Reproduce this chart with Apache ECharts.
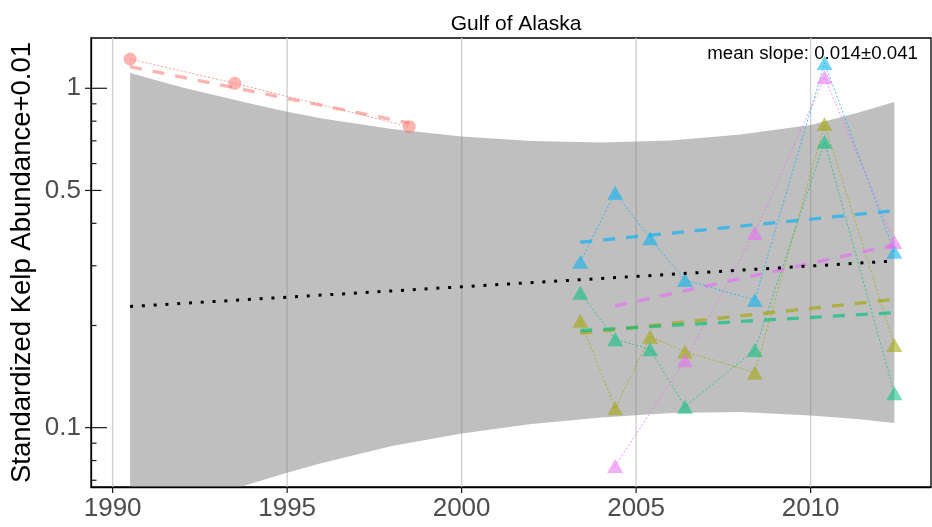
<!DOCTYPE html>
<html><head><meta charset="utf-8">
<script src="https://cdn.jsdelivr.net/npm/echarts@6/dist/echarts.min.js"></script>
<style>html,body{margin:0;padding:0;background:#fff}#c{width:932px;height:527px}</style>
</head><body><div id="c"></div>
<script>
const titleText = 'Gulf of Alaska';
const slopeText = 'mean slope: 0.014\u00b10.041';
const yAxisTitle = 'Standardized Kelp Abundance+0.01';
const xTicks = [1990, 1995, 2000, 2005, 2010];
const xTickLabels = ['1990', '1995', '2000', '2005', '2010'];
const yLabelTicks = [1, 0.5, 0.1];
const yLabelTexts = ['1', '0.5', '0.1'];
const logTicksLong = [1, 0.1];
const logTicksMid = [0.5];
const logTicksShort = [0.9, 0.8, 0.7, 0.6, 0.4, 0.3, 0.2, 0.09, 0.08, 0.07];

const salmonYears = [1990.5, 1993.5, 1998.5];
const salmonVals = [1.220, 1.034, 0.7705];
const triYears = [2003.4, 2004.4, 2005.4, 2006.4, 2008.4, 2010.4, 2012.4];
const blueVals = [0.3083, 0.4925, 0.3614, 0.2724, 0.2378, 1.1873, 0.3301];
const greenVals = [0.2498, 0.1822, 0.1702, 0.1153, 0.1694, 0.6961, 0.1263];
const oliveVals = [0.2066, 0.1141, 0.1854, 0.1675, 0.1452, 0.7847, 0.1752];
const pinkYears = [2004.4, 2006.4, 2008.4, 2010.4, 2012.4];
const pinkVals = [0.0771, 0.1580, 0.3747, 1.0775, 0.3525];

const salmonFitYears = [1990.5, 1998.5];
const salmonFitVals = [1.158, 0.790];
const triFitYears = [2003.4, 2012.4];
const blueFitVals = [0.3518, 0.4358];
const oliveFitVals = [0.1897, 0.2389];
const greenFitVals = [0.1931, 0.2182];
const pinkFitYears = [2004.4, 2012.4];
const pinkFitVals = [0.2284, 0.3453];
const meanYears = [1990.5, 2012.4];
const meanVals = [0.2275, 0.3098];

const ribbonYears = [1990.5, 1992, 1994, 1995, 1996, 1998, 2000, 2002, 2004, 2006, 2008, 2010, 2011.33, 2012.4];
const ribbonUpper = [1.1094, 1.0054, 0.8989, 0.8532, 0.8148, 0.7585, 0.7209, 0.6993, 0.6922, 0.7017, 0.7308, 0.7796, 0.8457, 0.9113];
const ribbonLower = [0.05203, 0.05920, 0.06858, 0.07370, 0.07870, 0.08834, 0.09614, 0.10254, 0.10717, 0.11048, 0.11124, 0.10860, 0.10605, 0.10323];

const X_MIN = 1989.38, X_MAX = 2013.45, Y_MIN = 0.06686, Y_MAX = 1.4066;
const FONT = '"Liberation Sans", Arial, Helvetica, sans-serif';
const C_SALMON = '#F8766D', C_OLIVE = '#A3A500', C_GREEN = '#00BF7D', C_BLUE = '#00B0F6', C_PINK = '#E76BF3';

function pairs(xs, ys) { return xs.map((x, i) => [x, ys[i]]); }
function connSeries(xs, ys, color, symbol, size) {
  return {
    type: 'line', data: pairs(xs, ys), symbol: symbol, symbolSize: size, showSymbol: true,
    lineStyle: { color: color, width: 1, type: [2, 2], opacity: 0.7 },
    itemStyle: { color: color, opacity: 0.55 }, z: 3, silent: true, animation: false
  };
}
function fitSeries(xs, ys, color, op) {
  return {
    type: 'line', data: pairs(xs, ys), symbol: 'none',
    lineStyle: { color: color, width: 3.3, type: [12, 11], opacity: op, cap: 'butt' },
    z: 4, silent: true, animation: false
  };
}

const chart = echarts.init(document.getElementById('c'), null, { renderer: 'canvas' });
chart.setOption({
  animation: false,
  backgroundColor: '#fff',
  title: {
    text: titleText, left: 511, top: 9, textAlign: 'center',
    textStyle: { fontSize: 21, fontWeight: 'normal', color: '#000', fontFamily: FONT }
  },
  graphic: [{
    type: 'text', right: 14, top: 44, z: 100,
    style: { text: slopeText, fontSize: 18.7, fill: '#000', fontFamily: FONT }
  }],
  grid: { left: 91, right: 1, top: 38, bottom: 40, show: true, borderColor: '#000', borderWidth: 1.3, containLabel: false, outerBoundsMode: 'none' },
  xAxis: {
    type: 'value', min: X_MIN, max: X_MAX,
    axisLine: { show: true, onZero: false, lineStyle: { color: '#000', width: 1.3 } },
    axisTick: { show: false }, axisLabel: { show: false }, splitLine: { show: false },
    minorTick: { show: false }, minorSplitLine: { show: false }
  },
  yAxis: {
    type: 'log', logBase: 10, min: Y_MIN, max: Y_MAX,
    axisLine: { show: true, onZero: false, lineStyle: { color: '#000', width: 1.3 } },
    axisTick: { show: false }, axisLabel: { show: false }, splitLine: { show: false },
    minorTick: { show: false }, minorSplitLine: { show: false },
    name: yAxisTitle, nameLocation: 'middle', nameGap: 55,
    nameTextStyle: { fontSize: 27.5, color: '#000', fontFamily: FONT }
  },
  series: [
    {
      type: 'custom', z: 0, silent: true, data: [[2000, 0.5]],
      renderItem: function (params, api) {
        const children = [];
        xTicks.forEach(v => {
          const top = api.coord([v, Y_MAX]);
          const bot = api.coord([v, Y_MIN]);
          children.push({ type: 'line', shape: { x1: top[0], y1: top[1], x2: bot[0], y2: bot[1] }, style: { stroke: '#d0d0d0', lineWidth: 1.4 } });
        });
        return { type: 'group', children: children };
      }
    },
    {
      type: 'custom', clip: true, z: 1, silent: true, data: [[2000, 0.5]],
      renderItem: function (params, api) {
        const pts = [];
        for (let i = 0; i < ribbonYears.length; i++) pts.push(api.coord([ribbonYears[i], ribbonUpper[i]]));
        for (let i = ribbonYears.length - 1; i >= 0; i--) pts.push(api.coord([ribbonYears[i], ribbonLower[i]]));
        return { type: 'polygon', shape: { points: pts }, style: { fill: 'rgba(127,127,127,0.5)' } };
      }
    },
    connSeries(salmonYears, salmonVals, C_SALMON, 'circle', 13),
    connSeries(triYears, oliveVals, C_OLIVE, 'triangle', [16, 14]),
    connSeries(triYears, greenVals, C_GREEN, 'triangle', [16, 14]),
    connSeries(triYears, blueVals, C_BLUE, 'triangle', [16, 14]),
    connSeries(pinkYears, pinkVals, C_PINK, 'triangle', [16, 14]),
    fitSeries(salmonFitYears, salmonFitVals, C_SALMON, 0.55),
    fitSeries(triFitYears, oliveFitVals, C_OLIVE, 0.65),
    fitSeries(triFitYears, greenFitVals, C_GREEN, 0.65),
    fitSeries(triFitYears, blueFitVals, C_BLUE, 0.65),
    fitSeries(pinkFitYears, pinkFitVals, C_PINK, 0.65),
    {
      type: 'line', data: pairs(meanYears, meanVals), symbol: 'none', z: 5, silent: true,
      lineStyle: { color: '#000', width: 3, type: [3, 8.8], cap: 'butt' }
    },
    {
      type: 'custom', z: 10, silent: true, data: [[2000, 0.5]],
      renderItem: function (params, api) {
        const children = [];
        const x0 = api.coord([X_MIN, 1])[0];
        const yb = api.coord([X_MIN, Y_MIN])[1];
        function tick(v, lenIn, lenOut) {
          const y = api.coord([X_MIN, v])[1];
          children.push({ type: 'line', shape: { x1: x0 - lenOut, y1: y, x2: x0 + lenIn, y2: y }, style: { stroke: '#1a1a1a', lineWidth: 1.2 } });
        }
        logTicksLong.forEach(v => tick(v, 16, 0));
        logTicksMid.forEach(v => tick(v, 10.5, 0));
        logTicksShort.forEach(v => tick(v, 5.5, 0));
        yLabelTicks.forEach((v, i) => {
          tick(v, 0, 6);
          const y = api.coord([X_MIN, v])[1];
          children.push({ type: 'text', style: { text: yLabelTexts[i], x: x0 - 10, y: y, align: 'right', verticalAlign: 'middle', fontSize: 26, fill: '#4d4d4d', fontFamily: FONT } });
        });
        xTicks.forEach((v, i) => {
          const x = api.coord([v, Y_MIN])[0];
          children.push({ type: 'line', shape: { x1: x, y1: yb, x2: x, y2: yb + 6 }, style: { stroke: '#1a1a1a', lineWidth: 1.2 } });
          children.push({ type: 'text', style: { text: xTickLabels[i], x: x, y: yb + 22, align: 'center', verticalAlign: 'middle', fontSize: 26, fill: '#4d4d4d', fontFamily: FONT } });
        });
        return { type: 'group', children: children };
      }
    }
  ]
});
</script></body></html>
